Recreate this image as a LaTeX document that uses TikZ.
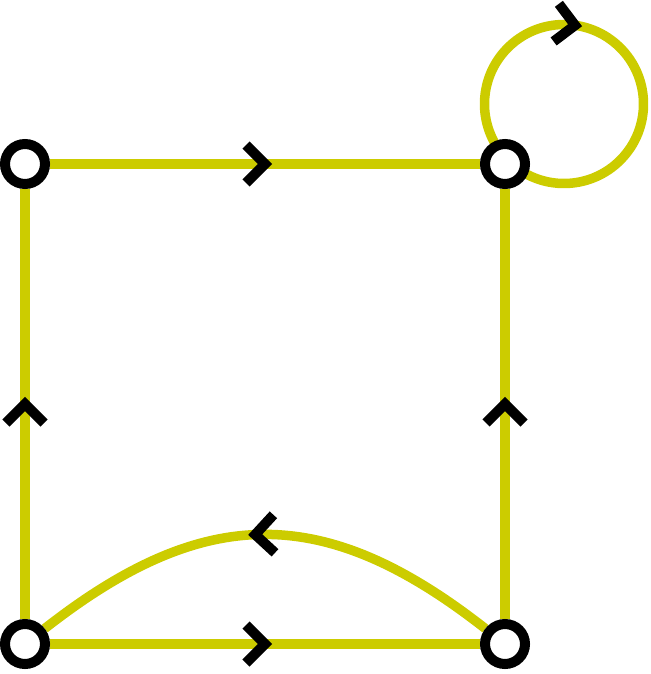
\documentclass[tikz,border=0pt]{standalone}
\usetikzlibrary{decorations.markings,backgrounds}
\definecolor{edgeyellow}{RGB}{204,204,0}
\tikzset{
  vertex/.style={circle, draw=black, fill=white, line width=10pt, inner sep=0pt, minimum size=40pt},
  edge/.style={draw=edgeyellow, line width=9.5pt},
  chev/.style={postaction={decorate}, decoration={markings, mark=at position #1 with {\draw[black, line width=10pt, line join=miter, line cap=butt] (-19pt,19pt) -- (0pt,0pt) -- (-19pt,-19pt);}}},
  chev/.default=0.5,
}
\begin{document}
\begin{tikzpicture}[x=1pt,y=-1pt]
  \useasboundingbox (0,0) rectangle (650,674);
  \node[vertex] (A) at (25,164) {};
  \node[vertex] (B) at (505,164) {};
  \node[vertex] (C) at (25,644) {};
  \node[vertex] (D) at (505,644) {};
  \coordinate (c1) at (205,503);
  \coordinate (c2) at (325,503);
  \coordinate (loopc) at (564,104);
  \begin{scope}[on background layer]
    \draw[edge, chev] (A) -- (B);
    \draw[edge, chev] (C) -- (A);
    \draw[edge, chev] (D) -- (B);
    \draw[edge, chev] (C) -- (D);
    \draw[edge, chev=0.52] (D) .. controls (c2) and (c1) .. (C);
    \draw[edge, chev=0.4] ([shift={(134:79.5)}]loopc) arc[start angle=134, delta angle=360, radius=79.5];
  \end{scope}
\end{tikzpicture}
\end{document}
